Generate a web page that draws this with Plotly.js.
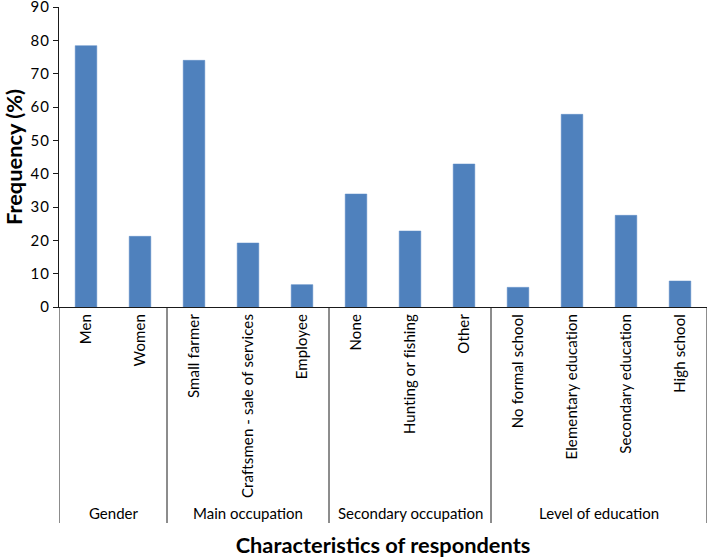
<!DOCTYPE html>
<html>
<head>
<meta charset="utf-8">
<script src="https://cdn.plot.ly/plotly-3.0.1.min.js"></script>
<style>
html,body{margin:0;padding:0;background:#fff;}
#chart{width:709px;height:558px;}
#chart .xtick text{letter-spacing:0.12px;}
#chart .ytick text{letter-spacing:1px;}
</style>
</head>
<body>
<div id="chart"></div>
<script>
const categories = ["Men", "Women", "Small farmer", "Craftsmen - sale of services", "Employee",
  "None", "Hunting or fishing", "Other", "No formal school", "Elementary education",
  "Secondary education", "High school"];
const groups = ["Gender", "Gender", "Main occupation", "Main occupation", "Main occupation",
  "Secondary occupation", "Secondary occupation", "Secondary occupation",
  "Level of education", "Level of education", "Level of education", "Level of education"];
const frequency = [78.4, 21.2, 74.0, 19.2, 6.7, 33.9, 22.8, 42.9, 5.9, 57.8, 27.5, 7.8];
const yTicks = [0, 10, 20, 30, 40, 50, 60, 70, 80, 90];

const FONT = "Lato, 'Open Sans', sans-serif";
const lineColor = "#1a1a1a";

// Group boundaries
const groupNames = [];
const groupStart = [];
const groupEnd = [];
groups.forEach((g, i) => {
  if (groupNames.length === 0 || groupNames[groupNames.length - 1] !== g) {
    groupNames.push(g); groupStart.push(i); groupEnd.push(i);
  } else {
    groupEnd[groupEnd.length - 1] = i;
  }
});

const plotTop = 7, plotBottom = 307;
const plotH = plotBottom - plotTop;
const sepBottom = (plotBottom - 523) / plotH;
const groupLabelY = (plotBottom - 513) / plotH;
const shapes = [];
groupStart.forEach((s) => {
  shapes.push({type: "line", xref: "x", yref: "paper", x0: s - 0.5, x1: s - 0.5, y0: 0, y1: sepBottom,
    line: {color: lineColor, width: 1}});
});
shapes.push({type: "line", xref: "x", yref: "paper", x0: categories.length - 0.5, x1: categories.length - 0.5,
  y0: 0, y1: sepBottom, line: {color: lineColor, width: 1}});

const annotations = groupNames.map((g, k) => ({
  text: g, xref: "x", yref: "paper", x: (groupStart[k] + groupEnd[k]) / 2, y: groupLabelY,
  xanchor: "center", yanchor: "middle", showarrow: false,
  font: {family: FONT, size: 15, color: "#000"}
}));

const trace = {
  type: "bar",
  x: categories,
  y: frequency,
  width: 0.4,
  marker: {color: "#4F81BD", line: {color: "#5a8ac6", width: 0.5}},
  hoverinfo: "x+y"
};

const layout = {
  width: 709, height: 558,
  margin: {l: 59, r: 2, t: plotTop, b: 558 - plotBottom, pad: 0},
  paper_bgcolor: "#fff", plot_bgcolor: "#fff",
  showlegend: false,
  bargap: 0.6,
  xaxis: {
    type: "category",
    range: [-0.5, categories.length - 0.5],
    tickangle: -90,
    ticks: "",
    showline: true, linecolor: lineColor, linewidth: 1,
    showgrid: false, zeroline: false,
    tickfont: {family: FONT, size: 15, color: "#000"},
    automargin: false,
    title: {text: "Characteristics of respondents", standoff: 66,
      font: {family: FONT, size: 21.8, color: "#000", weight: "bold"}}
  },
  yaxis: {
    range: [0, 90],
    tickvals: yTicks,
    ticks: "outside", ticklen: 5, tickcolor: lineColor, tickwidth: 1,
    showline: true, linecolor: lineColor, linewidth: 1,
    showgrid: false, zeroline: false,
    ticklabeloverflow: "allow",
    tickfont: {family: FONT, size: 15, color: "#000"},
    automargin: false,
    title: {text: "Frequency (%)", standoff: 8,
      font: {family: FONT, size: 21.8, color: "#000", weight: "bold"}}
  },
  shapes: shapes,
  annotations: annotations
};

Plotly.newPlot("chart", [trace], layout, {displayModeBar: false, staticPlot: true});
</script>
</body>
</html>
